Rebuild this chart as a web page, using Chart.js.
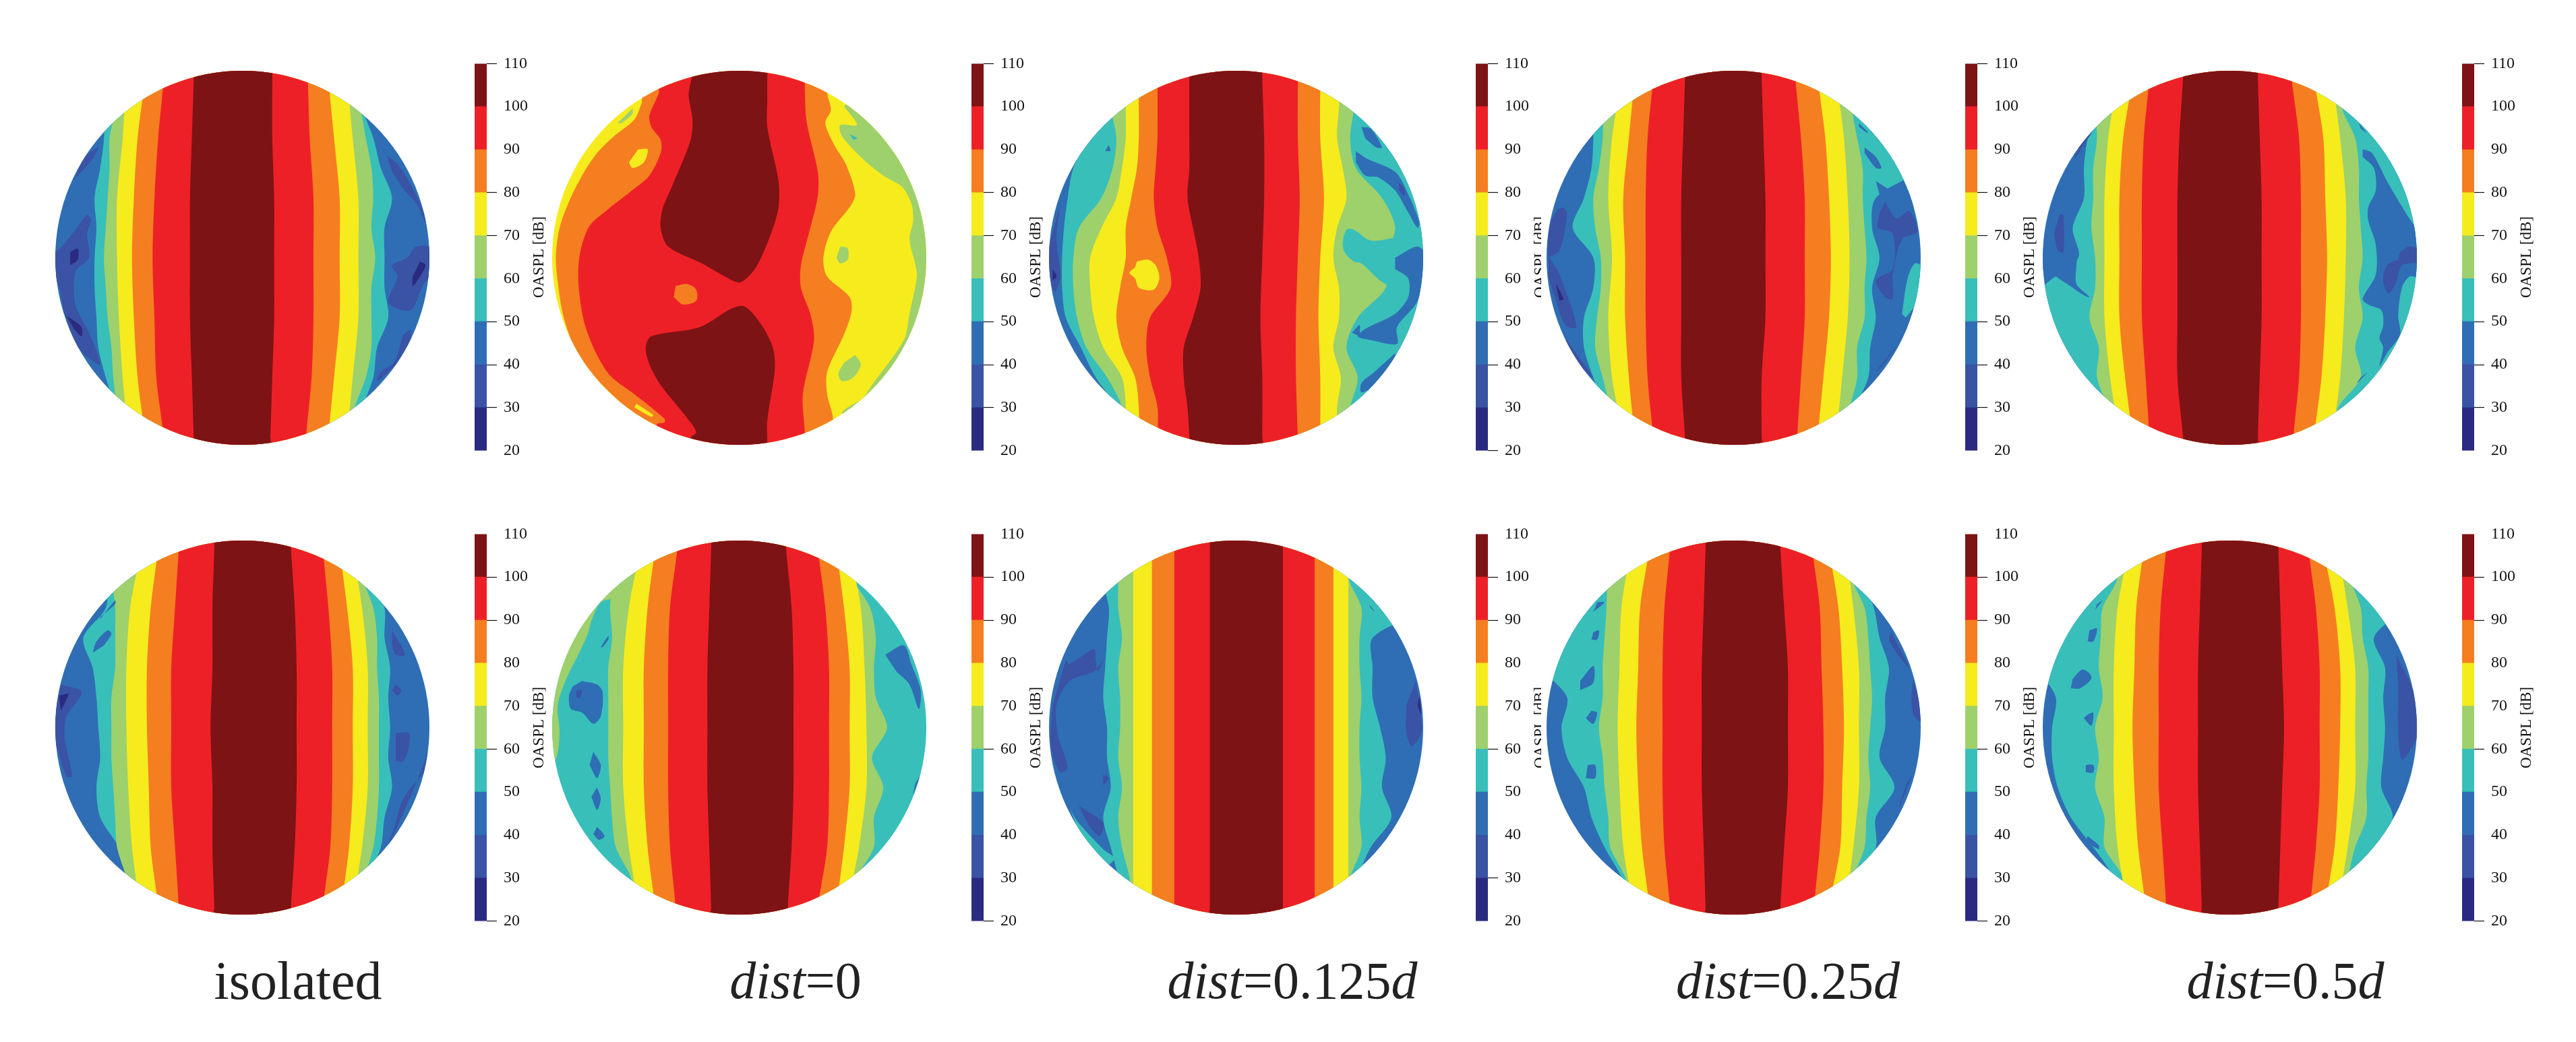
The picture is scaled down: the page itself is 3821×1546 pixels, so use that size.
<!DOCTYPE html>
<html>
<head>
<meta charset="utf-8">
<title>OASPL maps</title>
<script src="https://cdn.jsdelivr.net/npm/chart.js@4/dist/chart.umd.js"></script>
<style>
  html, body { margin: 0; background: #fff; }
  #page { position: relative; width: 3821px; height: 1546px; overflow: hidden; }
  canvas { position: absolute; }
  canvas.disc { background: #fff; }
  .caption { position: absolute; top: 1405px; width: 700px; text-align: center; font: 78px/100px "Liberation Serif", serif; color: #222; }
</style>
</head>
<body>
<div id="page"></div>
<script>
// colour scale, OASPL in dB
const levels = [20, 30, 40, 50, 60, 70, 80, 90, 100, 110];
const bandColors = ['#2a2b80', '#3a53a4', '#2f6eb4', '#38bfba', '#9ed06c', '#f6eb1d', '#f57e20', '#ee2027', '#7d1315'];
const captions = ['isolated', '<i>dist</i>=0', '<i>dist</i>=0.125<i>d</i>', '<i>dist</i>=0.25<i>d</i>', '<i>dist</i>=0.5<i>d</i>'];

// contours are read in percent of the disc radius. x at fixed heights, left and right of the jet,
// each list holds the 50,60,70,80,90,100 dB contour. 13 values use rowsFine, 7 use rowsCoarse
const rowsFine = [-96, -80, -64, -48, -32, -16, 0, 16, 32, 48, 64, 80, 96];
const rowsCoarse = [-96, -64, -32, 0, 32, 64, 96];
const contourLevels = [50, 60, 70, 80, 90, 100];

// islands: [level, [x, y, x, y, ...]], painted in order over the contours

// top row, isolated
const p1Base = 40;
const p1Left = [
  [-85,-74,-74,-76,-79,-78,-79,-79,-78,-77,-73,-68,-64],
  [-70,-68,-71,-71,-72,-73,-74,-73,-72,-70,-69,-67,-64],
  [-62,-64,-67,-67,-66,-64,-61],
  [-52,-56,-58,-59,-58,-56,-52],
  [-42,-45,-47,-48,-47,-46,-42],
  [-26,-27,-28,-28,-28,-27,-26]];
const p1Right = [
  [60,64,70,74,80,76,76,76,78,72,70,64,58],
  [58,63,66,69,70,69,71,69,69,69,66,60,56],
  [56,59,62,62,62,59,56],
  [46,49,52,52,52,49,46],
  [35,36,38,38,38,37,34],
  [16,16,17,17,17,16,15]];
const p1Islands = [
  [30, [-105,-4,-99,-4,-90,-14,-83,-23,-81,-20,-83,-13,-82,0,-89,7,-90,16,-89,26,-82,40,-76,57,-83,53,-89,46,-95,30,-99,13,-105,13]],
  [30, [-90,-42,-84,-54,-77,-59,-80,-53,-85,-47]],
  [30, [77,-55,83,-50,90,-39,97,-24,98,-19,93,-29,86,-37,80,-46]],
  [30, [105,-6,93,-6,88,0,80,4,83,10,78,24,90,28,97,14,105,6]],
  [30, [90,38,90,44,83,56,72,66,74,61,81,56,86,41]],
  [20, [-92,-3,-88,-5,-88,1,-92,4]],
  [20, [-94,31,-86,37,-86,42,-90,38]],
  [20, [95,2,98,4,93,13,91,15,91,10]]];

// top row, dist=0, too far from a stripe pattern, all of it is islands
const p2Base = 70;
const p2Left = [];
const p2Right = [];
const p2Islands = [
  [60, [56,-81,63,-71,54,-71,55,-65,66,-53,77,-44,87,-38,92,-29,93,-20,91,-10,94,3,95,10,91,30,88,44,71,68,66,75,55,83,70,90,102,60,102,-60,70,-95]],
  [80, [-52,-83,-56,-74,-67,-65,-76,-56,-84,-44,-91,-30,-96,-16,-98,-1,-97,13,-94,31,-88,48,-77,64,-65,76,-55,86,-44,91,-44,102,50,102,50,85,47,73,47,61,56,41,60,29,59,21,47,10,45,0,49,-14,59,-27,62,-34,57,-50,51,-60,46,-72,49,-79,47,-88,47,-102,-52,-102]],
  [90, [-43,-91,-43,-88,-48,-76,-47,-70,-42,-63,-42,-56,-48,-44,-56,-37,-70,-26,-80,-17,-85,-3,-86,13,-83,34,-77,50,-69,63,-56,73,-40,86,-40,88,-44,89,-44,102,35,102,35,93,34,73,40,44,38,30,33,16,33,4,38,-16,42,-33,42,-46,36,-73,35,-93,35,-102,-43,-102]],
  [100, [-25,-98,-27,-87,-25,-74,-26,-63,-36,-38,-41,-26,-42,-16,-38,-6,-20,3,-4,12,1,13,9,5,17,-13,21,-27,21,-41,15,-70,15,-84,15,-99,15,-102,-25,-102]],
  [100, [-26,96,-23,93,-30,83,-42,68,-48,57,-50,48,-47,42,-21,37,-4,27,3,26,12,36,18,48,19,60,15,87,15,98,15,102,-26,102]],
  [70, [-54,-58,-49,-58,-51,-51,-57,-48,-59,-51]],
  [70, [-55,78,-46,84,-47,85,-56,80]],
  [80, [-34,15,-28,14,-23,17,-23,23,-30,25,-35,21]],
  [60, [-57,-80,-57,-77,-63,-72,-65,-72]],
  [60, [54,-6,58,-5,58,1,54,3,52,0]],
  [60, [62,52,65,57,61,64,55,66,53,62,56,56]],
  [50, [62,-78,67,-73,64,-76]],
  [50, [59,-66,63,-64,61,-63]]];

// top row, dist=0.125d
const p3Base = 40;
const p3Left = [
  [-70,-72,-79,-87,-90,-92,-93,-93,-91,-83,-75,-64,-60],
  [-68,-67,-64,-66,-72,-84,-87,-87,-85,-80,-69,-61,-61],
  [-59,-59,-59,-61,-64,-72,-78,-78,-76,-71,-61,-59,-59],
  [-52,-52,-52,-53,-56,-59,-59,-62,-64,-61,-54,-52,-52],
  [-42,-42,-42,-43,-44,-42,-37,-35,-46,-48,-46,-42,-42],
  [-25,-25,-25,-25,-26,-23,-20,-19,-23,-28,-28,-26,-25]];
const p3Right = [
  [102,102,102,102,102,102,102,102,102,102,102,102,102],
  [63,63,61,64,78,85,80,80,65,59,65,61,60],
  [56,55,54,57,59,54,52,55,55,52,56,54,54],
  [45,45,47,45,44,45,45],
  [33,33,34,33,32,32,33],
  [14,15,15,14,13,14,14]];
const p3Islands = [
  [50, [86,-11,74,-9,70,-10,63,-15,59,-15,57,-8,58,-3,63,2,67,3,80,14,86,9]],
  [40, [67,-70,72,-69,78,-59,75,-59,69,-64]],
  [40, [64,-57,70,-53,85,-46,92,-34,98,-19,97,-16,91,-26,85,-36,76,-43,69,-44,64,-51]],
  [40, [85,0,97,-6,102,0,97,23,86,37,86,46,72,44,65,42,69,38,85,30,92,21,92,11,85,6]],
  [40, [62,40,66,36,66,42]],
  [40, [85,51,74,61,67,67,67,72,76,67,85,57]],
  [30, [87,-40,90,-37,90,-33,87,-36]],
  [30, [-94,-29,-96,-10,-94,10,-97,18,-102,1]],
  [20, [-98,6,-96,10,-98,12]],
  [40, [-70,-57,-68,-60,-67,-57]],
  [70, [-53,2,-47,1,-43,4,-41,11,-44,17,-52,16,-54,11,-57,8,-54,5]]];

// top row, dist=0.25d
const p4Base = 40;
const p4Left = [
  [-80,-75,-75,-76,-80,-86,-75,-75,-80,-80,-75,-69,-64],
  [-72,-70,-70,-72,-75,-74,-71,-71,-73,-74,-70,-66,-62],
  [-60,-65,-67,-65,-67,-65,-59],
  [-53,-56,-59,-58,-58,-56,-53],
  [-43,-46,-47,-47,-47,-46,-43],
  [-26,-27,-28,-28,-28,-28,-26]];
const p4Right = [
  [102,102,102,100,76,74,78,74,76,73,72,65,60],
  [60,63,66,69,69,70,71,70,70,66,66,62,57],
  [55,59,61,62,61,58,55],
  [45,49,51,52,51,48,45],
  [33,36,38,38,38,36,34],
  [15,16,17,17,17,15,15]];
const p4Islands = [
  [40, [76,-41,85,-36,92,-37,102,-27,80,-27]],
  [50, [90,30,93,11,97,3,102,6,97,25,92,32]],
  [40, [67,-72,72,-67,71,-67,67,-70]],
  [40, [70,-59,76,-54,79,-48,76,-48,70,-56]],
  [30, [81,-30,87,-21,94,-25,98,-14,90,-10,85,10,85,22,81,21,76,12,85,6,85,-13,77,-16,78,-24]],
  [30, [-91,-27,-89,-24,-93,-4,-99,-1,-98,-18,-94,-26]],
  [30, [-99,-1,-93,9,-84,37,-90,36,-95,23,-99,10]],
  [30, [-90,43,-75,64,-79,61,-89,48]],
  [30, [87,47,76,61,80,57,85,50]],
  [20, [-95,14,-91,22,-93,23]]];

// top row, dist=0.5d
const p5Base = 40;
const p5Left = [
  [-78,-72,-76,-78,-78,-84,-81,-100,-102,-102,-102,-102,-102],
  [-72,-72,-71,-73,-73,-74,-72,-72,-75,-70,-71,-65,-60],
  [-60,-65,-67,-67,-67,-64,-59],
  [-52,-57,-59,-59,-59,-56,-52],
  [-43,-46,-47,-47,-47,-45,-43],
  [-25,-27,-28,-28,-28,-28,-25]];
const p5Right = [
  [102,102,102,102,102,102,102,102,102,102,102,102,102],
  [60,60,67,69,69,70,71,69,71,67,70,58,55],
  [55,59,62,62,61,59,55],
  [45,50,51,52,51,49,45],
  [33,37,38,38,38,37,34],
  [15,16,17,17,17,16,15]];
const p5Islands = [
  [40, [-102,-3,-82,-3,-82,4,-82,14,-75,21,-78,20,-84,16,-87,14,-98,7,-102,7]],
  [40, [71,-58,76,-56,84,-41,91,-29,98,-18,102,-13,102,7,100,10,96,10,92,16,90,31,91,41,84,51,80,58,82,48,80,43,82,36,81,28,74,25,71,22,78,9,78,-7,74,-20,74,-27,78,-36,77,-48,71,-54]],
  [30, [91,-3,96,-6,102,-4,102,2,92,4,89,13,85,19,82,13,84,4,90,1]],
  [30, [-91,-23,-89,-23,-89,-3,-92,-4,-94,-13]],
  [30, [-73,-68,-83,-53,-80,-61]],
  [40, [69,-72,73,-67,70,-69]],
  [40, [74,61,68,67,70,64]]];

// bottom row, isolated
const p6Base = 40;
const p6Left = [
  [-72,-72,-73,-85,-80,-78,-77,-76,-78,-76,-66,-60,-58],
  [-72,-70,-68,-68,-68,-70,-70,-70,-69,-68,-67,-62,-58],
  [-54,-60,-62,-62,-61,-59,-55],
  [-45,-49,-51,-51,-50,-49,-45],
  [-34,-36,-38,-38,-38,-36,-34],
  [-15,-16,-16,-17,-16,-16,-15]];
const p6Right = [
  [64,69,76,76,79,78,79,78,80,76,74,67,60],
  [60,64,70,72,72,73,73,73,73,72,70,65,58],
  [59,64,67,67,67,64,59],
  [52,56,59,59,59,57,53],
  [43,46,48,48,48,47,43],
  [26,28,29,29,29,28,26]];
const p6Islands = [
  [40, [-76,-58,-68,-68,-68,-66,-76,-59]],
  [40, [-80,-40,-78,-46,-72,-52,-70,-50,-74,-44]],
  [30, [-97,-23,-86,-19,-94,-6,-95,5,-91,26,-94,26,-98,14,-102,0,-99,-14]],
  [20, [-98,-17,-93,-18,-97,-9]],
  [30, [80,-52,87,-39,82,-39,80,-44]],
  [30, [82,-23,85,-20,83,-17,80,-20]],
  [30, [82,3,89,3,89,10,86,18,82,18]],
  [30, [102,0,102,5,91,34,76,68,81,54,86,38,97,24]]];

// bottom row, dist=0
const p7Base = 50;
const p7Left = [
  [],
  [-70,-68,-69,-68,-70,-70,-70,-70,-69,-68,-66,-58,-55],
  [-53,-59,-62,-62,-62,-59,-54],
  [-45,-49,-51,-51,-51,-49,-45],
  [-33,-37,-38,-38,-38,-37,-34],
  [-15,-16,-17,-17,-17,-16,-15]];
const p7Right = [
  [],
  [62,61,70,73,72,73,79,71,77,72,72,63,60],
  [59,65,67,68,68,64,58],
  [52,56,59,59,59,56,52],
  [42,46,48,48,48,47,42],
  [25,28,29,29,29,28,26]];
const p7Islands = [
  [60, [-66,-69,-74,-67,-79,-57,-81,-50,-86,-39,-92,-27,-97,-12,-96,3,-98,17,-102,17,-102,-70,-70,-85]],
  [40, [78,-39,88,-44,92,-34,97,-20,96,-10,91,-23,84,-30]],
  [40, [97,25,93,36,94,30]],
  [40, [-84,-25,-76,-23,-73,-19,-74,-6,-78,-2,-84,-8,-90,-10,-91,-17,-89,-22]],
  [30, [-87,-20,-84,-20,-85,-16,-87,-16]],
  [40, [-74,-43,-70,-49,-70,-47,-73,-43]],
  [40, [-78,13,-74,20,-76,27,-80,20]],
  [40, [-76,32,-74,38,-76,44,-79,37]],
  [40, [-76,53,-72,58,-75,60,-78,57]]];

// bottom row, dist=0.125d
const p8Base = 40;
const p8Left = [
  [-75,-72,-68,-69,-70,-71,-69,-69,-67,-71,-67,-63,-60],
  [-64,-63,-63,-61,-63,-62,-62,-63,-61,-63,-61,-57,-55],
  [-55,-55,-55,-55,-55,-55,-55],
  [-45,-45,-45,-45,-45,-45,-45],
  [-33,-33,-33,-33,-33,-33,-33],
  [-14,-14,-14,-14,-14,-14,-14]];
const p8Right = [
  [102,102,100,73,73,73,77,80,78,83,72,65,60],
  [60,60,67,66,66,67,66,66,67,66,67,61,58],
  [60,60,60,60,60,60,60],
  [52,52,52,52,52,52,52],
  [42,42,42,42,42,42,42],
  [25,25,25,25,25,25,25]];
const p8Islands = [
  [50, [-89,43,-85,50,-71,65,-65,70,-72,75,-80,65]],
  [30, [-91,-36,-89,-34,-76,-42,-75,-36,-74,-30,-71,-36,-76,-30,-89,-25,-96,-12,-95,5,-90,21,-94,24,-99,10,-98,-12]],
  [30, [-84,42,-71,51,-73,58,-79,52]],
  [30, [-71,25,-68,27,-71,31]],
  [30, [96,-25,99,-5,99,3,94,10,91,3,91,-12]],
  [20, [98,-17,99,-7,97,-12]],
  [30, [71,-66,74,-62,72,-64]]];

// bottom row, dist=0.25d
const p9Base = 40;
const p9Left = [
  [-102,-102,-102,-102,-102,-89,-92,-89,-80,-76,-69,-60,-55],
  [-72,-68,-68,-69,-70,-70,-72,-70,-69,-67,-66,-58,-55],
  [-55,-60,-61,-62,-61,-59,-54],
  [-45,-50,-51,-52,-51,-49,-45],
  [-34,-37,-38,-38,-38,-37,-34],
  [-15,-16,-17,-17,-17,-16,-15]];
const p9Right = [
  [66,69,75,78,83,81,81,78,86,76,76,66,60],
  [62,63,70,72,73,74,73,72,73,71,70,64,60],
  [60,64,67,67,67,64,60],
  [51,56,58,59,58,57,51],
  [42,46,47,48,48,46,43],
  [25,27,29,29,29,27,25]];
const p9Islands = [
  [40, [-73,-67,-69,-67,-75,-62,-74,-64]],
  [40, [-75,-51,-72,-52,-73,-47,-76,-47]],
  [40, [-82,-25,-75,-33,-75,-24,-82,-20]],
  [40, [-76,-9,-73,-8,-75,-2,-79,-5]],
  [40, [-78,20,-74,20,-74,27,-79,27]],
  [30, [84,-51,94,-32,87,-40,83,-47]],
  [30, [96,-26,102,-2,96,-7,95,-18]],
  [30, [96,24,88,44,92,31]]];

// bottom row, dist=0.5d
const p10Base = 40;
const p10Left = [
  [-102,-102,-102,-102,-102,-93,-95,-95,-92,-85,-73,-62,-55],
  [-62,-60,-68,-69,-70,-68,-72,-70,-72,-67,-67,-57,-54],
  [-54,-60,-62,-62,-62,-60,-55],
  [-46,-50,-51,-52,-51,-49,-45],
  [-34,-37,-38,-38,-38,-36,-34],
  [-15,-16,-17,-17,-17,-16,-15]];
const p10Right = [
  [70,68,90,77,83,82,83,82,81,87,77,67,60],
  [60,64,70,71,74,74,74,74,73,73,67,63,58],
  [58,63,67,67,67,63,58],
  [50,56,59,59,58,56,51],
  [42,46,48,48,48,46,43],
  [26,27,28,29,28,27,26]];
const p10Islands = [
  [40, [-84,-26,-79,-31,-75,-29,-74,-26,-80,-21,-85,-21]],
  [40, [-71,-66,-68,-68,-72,-63]],
  [40, [-75,-52,-71,-53,-73,-46,-76,-46]],
  [40, [-76,-7,-73,-8,-74,-1,-78,-5]],
  [40, [-77,20,-73,20,-73,24,-77,24]],
  [40, [-76,58,-70,63,-70,65,-77,61]],
  [30, [89,-39,98,-20,102,0,97,11,92,17,90,3,90,-23]]];

// which colour bar ticks got drawn in the original figures
const ticksTop = [[110,80,70,50,40,30], [110,80,70,50,40,30], [110,80,70,50,40,20], [110,80,70,50,40,30], [110,80,70,50,40,30]];
const ticksBottom = [[100,90,60,20], [100,90,60,20], [100,90,60,30], [100,90,60,20], [100,90,60,20]];

const panels = [
  { base: p1Base, left: p1Left, right: p1Right, islands: p1Islands, col: 0, row: 0, ticks: ticksTop[0] },
  { base: p2Base, left: p2Left, right: p2Right, islands: p2Islands, col: 1, row: 0, ticks: ticksTop[1] },
  { base: p3Base, left: p3Left, right: p3Right, islands: p3Islands, col: 2, row: 0, ticks: ticksTop[2] },
  { base: p4Base, left: p4Left, right: p4Right, islands: p4Islands, col: 3, row: 0, ticks: ticksTop[3] },
  { base: p5Base, left: p5Left, right: p5Right, islands: p5Islands, col: 4, row: 0, ticks: ticksTop[4] },
  { base: p6Base, left: p6Left, right: p6Right, islands: p6Islands, col: 0, row: 1, ticks: ticksBottom[0] },
  { base: p7Base, left: p7Left, right: p7Right, islands: p7Islands, col: 1, row: 1, ticks: ticksBottom[1] },
  { base: p8Base, left: p8Left, right: p8Right, islands: p8Islands, col: 2, row: 1, ticks: ticksBottom[2] },
  { base: p9Base, left: p9Left, right: p9Right, islands: p9Islands, col: 3, row: 1, ticks: ticksBottom[3] },
  { base: p10Base, left: p10Left, right: p10Right, islands: p10Islands, col: 4, row: 1, ticks: ticksBottom[4] }
];

// layout of the figure
const discLeft = [74, 811, 1548, 2286, 3022];
const discTop = [97, 794];
const barLeft = [704, 1441, 2189, 2915, 3652];
const barTop = [94, 792];
const captionCenter = [442, 1180, 1917, 2652, 3390];
const discBox = 571;
const discRadius = 277.5;
const barWidth = 18;
const barHeight = 575;
const barBox = 112;
const barPad = 24;
const axisLimit = 100 * (discBox / 2) / discRadius;
const capRow = 102.5;
const serif = '"Liberation Serif", serif';

Chart.defaults.animation = false;
const page = document.getElementById('page');

function colorOf(level) {
  return bandColors[levels.indexOf(level)];
}

function addCanvas(cls, left, top, width, height) {
  const c = document.createElement('canvas');
  c.className = cls;
  c.width = width;
  c.height = height;
  c.style.left = left + 'px';
  c.style.top = top + 'px';
  c.style.width = width + 'px';
  c.style.height = height + 'px';
  page.appendChild(c);
  return c;
}

function curvePoints(vals) {
  const rows = vals.length === 13 ? rowsFine : rowsCoarse;
  const pts = [{ x: vals[0], y: -capRow }];
  vals.forEach((x, i) => pts.push({ x: x, y: rows[i] }));
  pts.push({ x: vals[vals.length - 1], y: capRow });
  return pts;
}

function shape(points, level, order) {
  return {
    data: points,
    showLine: true,
    fill: 'shape',
    backgroundColor: colorOf(level),
    borderWidth: 0,
    pointRadius: 0,
    tension: 0.3,
    order: order
  };
}

function discDatasets(p) {
  const sets = [];
  const lim = axisLimit;
  sets.push([[{ x: -lim, y: -lim }, { x: lim, y: -lim }, { x: lim, y: lim }, { x: -lim, y: lim }], p.base]);
  contourLevels.forEach((level, i) => {
    if (!p.left[i] || !p.left[i].length) return;
    sets.push([curvePoints(p.left[i]).concat(curvePoints(p.right[i]).reverse()), level]);
  });
  p.islands.forEach(([level, flat]) => {
    const pts = [];
    for (let i = 0; i < flat.length; i += 2) pts.push({ x: flat[i], y: flat[i + 1] });
    sets.push([pts, level]);
  });
  // chart.js paints the lowest order last
  return sets.map(([pts, level], i) => shape(pts, level, -i));
}

// keep the contours inside the round disc
const discClip = {
  id: 'discClip',
  beforeDatasetsDraw(chart) {
    const { x, y } = chart.scales;
    const ctx = chart.ctx;
    ctx.save();
    ctx.beginPath();
    ctx.arc(x.getPixelForValue(0), y.getPixelForValue(0), Math.abs(x.getPixelForValue(100) - x.getPixelForValue(0)), 0, Math.PI * 2);
    ctx.clip();
  },
  afterDatasetsDraw(chart) {
    chart.ctx.restore();
  }
};

const barTitle = {
  id: 'barTitle',
  afterDraw(chart) {
    const ctx = chart.ctx;
    ctx.save();
    ctx.translate(chart.chartArea.left + 96, chart.scales.y.getPixelForValue(65));
    ctx.rotate(-Math.PI / 2);
    ctx.font = '23px ' + serif;
    ctx.fillStyle = '#111';
    ctx.textAlign = 'center';
    ctx.textBaseline = 'middle';
    ctx.fillText('OASPL [dB]', 0, 0);
    ctx.restore();
  }
};

function drawBar(p) {
  const canvas = addCanvas('bar', barLeft[p.col], barTop[p.row] - barPad, barBox, barHeight + barPad * 2);
  new Chart(canvas, {
    type: 'bar',
    data: {
      labels: ['OASPL'],
      datasets: bandColors.map((color, i) => ({
        data: [[levels[i], levels[i + 1]]],
        backgroundColor: color,
        borderWidth: 0,
        barPercentage: 1,
        categoryPercentage: 1
      }))
    },
    options: {
      responsive: false,
      devicePixelRatio: 1,
      layout: { padding: { top: barPad, bottom: barPad } },
      plugins: { legend: { display: false }, tooltip: { enabled: false } },
      scales: {
        x: { display: false, stacked: true },
        y: {
          position: 'right',
          min: 20,
          max: 110,
          afterFit(scale) { scale.width = barBox - barWidth; },
          border: { display: false },
          grid: {
            drawOnChartArea: false,
            tickLength: 15,
            tickWidth: 1.2,
            tickColor: (ctx) => p.ticks.includes(ctx.tick && ctx.tick.value) ? '#111' : 'rgba(0,0,0,0)'
          },
          ticks: {
            stepSize: 10,
            padding: 10,
            color: '#111',
            font: { family: serif, size: 24 }
          }
        }
      }
    },
    plugins: [barTitle]
  });
}

function drawDisc(p) {
  const canvas = addCanvas('disc', discLeft[p.col], discTop[p.row], discBox, discBox);
  new Chart(canvas, {
    type: 'scatter',
    data: { datasets: discDatasets(p) },
    options: {
      responsive: false,
      devicePixelRatio: 1,
      layout: { padding: 0 },
      plugins: { legend: { display: false }, tooltip: { enabled: false } },
      scales: {
        x: { display: false, min: -axisLimit, max: axisLimit },
        y: { display: false, min: -axisLimit, max: axisLimit, reverse: true }
      }
    },
    plugins: [discClip]
  });
}

// colour bars first, the white disc boxes sit on top like in the original figure
panels.forEach(drawBar);
panels.forEach(drawDisc);

captions.forEach((html, i) => {
  const d = document.createElement('div');
  d.className = 'caption';
  d.style.left = (captionCenter[i] - 350) + 'px';
  if (i === 0) d.style.fontSize = '80px';
  d.innerHTML = html;
  page.appendChild(d);
});
</script>
</body>
</html>
